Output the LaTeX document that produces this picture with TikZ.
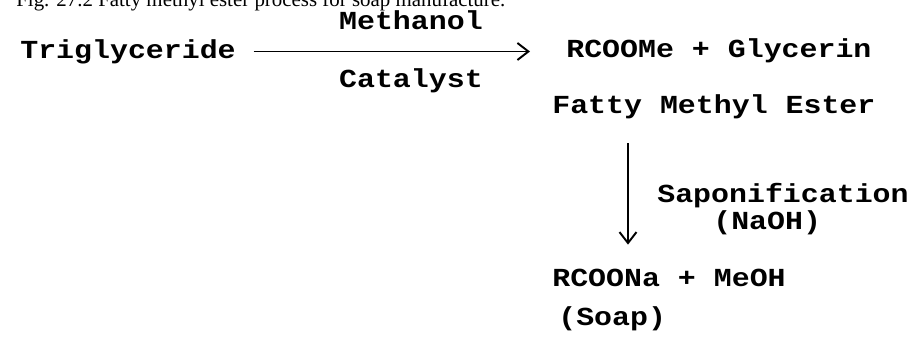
\documentclass[tikz,border=0pt]{standalone}
\usepackage{fontspec}
\setmainfont{Liberation Serif}
\newfontfamily\chemfont[FakeStretch=1.15]{Liberation Mono}
\usetikzlibrary{arrows.meta}

\tikzset{
  chem/.style={font=\chemfont\bfseries\fontsize{14.8pt}{17pt}\selectfont,
    inner sep=0pt, text height=0.3cm, text depth=0pt},
  react/.style={line width=1.1pt, -{Straight Barb[length=2.2mm,width=3.4mm]}},
}

\begin{document}
\begin{tikzpicture}

\clip (0,0) rectangle (18.2,-6.88);

\node[anchor=base west, inner sep=0pt, font=\fontsize{11.9pt}{14pt}\selectfont] (fig) at (0.32,-0.14) {Fig. 27.2 Fatty methyl ester process for soap manufacture.};

\coordinate (T0) at (0.40,-1.03);
\coordinate (P0) at (11.32,-1.00);
\coordinate (F0) at (11.04,-2.12);
\coordinate (S0) at (13.14,-3.90);
\coordinate (N0) at (14.26,-4.44);
\coordinate (R0) at (11.04,-5.58);
\coordinate (Q0) at (11.16,-6.36);
\coordinate (V) at (12.56,0);

\node[chem,right] (trig) at (T0) {Triglyceride};
\node[chem,right] (ester) at (P0) {RCOOMe + Glycerin};
\node[chem,right] (fame) at (F0) {Fatty Methyl Ester};
\node[chem,right] (sapo) at (S0) {Saponification};
\node[chem,right] (naoh) at (N0) {(NaOH)};
\node[chem,right] (salt) at (R0) {RCOONa + MeOH};
\node[chem,right] (soap) at (Q0) {(Soap)};

% transesterification
\draw[react, shorten <=0.35cm, shorten >=0.72cm] (trig.east) -- (trig.east -| ester.west)
  node[pos=0.53, above=0.43cm, chem] (meoh) {Methanol}
  node[pos=0.53, below=0.41cm, chem] (cat) {Catalyst};

% saponification step
\draw[react, shorten <=0.59cm, shorten >=0.53cm] (fame.south -| V) -- (V |- salt.north);

\end{tikzpicture}
\end{document}
